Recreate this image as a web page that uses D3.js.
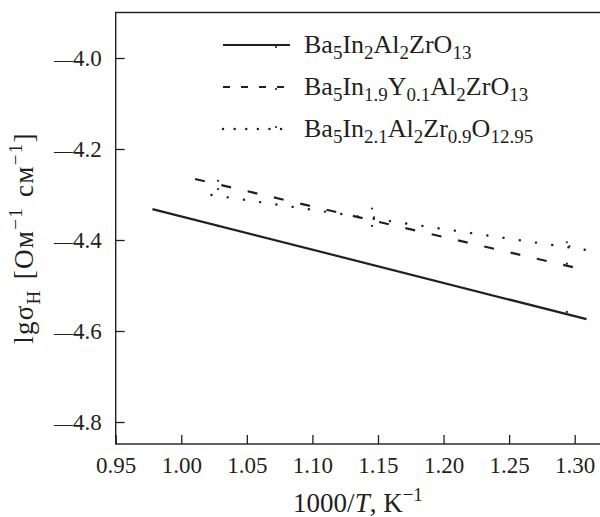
<!DOCTYPE html>
<html>
<head>
<meta charset="utf-8">
<script src="https://cdn.jsdelivr.net/npm/d3@7"></script>
<style>
  body { margin: 0; background: #fff; }
  svg text { font-family: "Liberation Serif", "Times New Roman", serif; fill: #231f20; }
</style>
</head>
<body>
<script>
// values
var xTicks = [0.95, 1.00, 1.05, 1.10, 1.15, 1.20, 1.25, 1.30];
var yTicks = [-4.0, -4.2, -4.4, -4.6, -4.8];

// each line is a straight Arrhenius fit: [1000/T, lg sigma]
var lineSolid  = [[0.978, -4.332], [1.309, -4.574]];
var lineDashed = [[1.0105, -4.266], [1.305, -4.464]];
var lineDotted = [[1.023, -4.301], [1.309, -4.422]];

// small point marks drawn along the lines
var ptsSolid  = [[1.028, -4.369], [1.294, -4.558]];
var ptsDashed = [[1.028, -4.270], [1.028, -4.288], [1.1455, -4.331], [1.147, -4.350], [1.1455, -4.369], [1.294, -4.452]];
var ptsDotted = [[1.294, -4.405], [1.296, -4.414]];

var legendNames = [
  [["Ba"], ["5", "sub"], ["In"], ["2", "sub"], ["Al"], ["2", "sub"], ["ZrO"], ["13", "sub"]],
  [["Ba"], ["5", "sub"], ["In"], ["1.9", "sub"], ["Y"], ["0.1", "sub"], ["Al"], ["2", "sub"], ["ZrO"], ["13", "sub"]],
  [["Ba"], ["5", "sub"], ["In"], ["2.1", "sub"], ["Al"], ["2", "sub"], ["Zr"], ["0.9", "sub"], ["O"], ["12.95", "sub"]]
];

var W = 600, H = 517;
var FONT = "Liberation Serif";
var INK = "#231f20";
var svg = d3.select("body").append("svg").attr("width", W).attr("height", H);

var x = d3.scaleLinear().domain([0.95, 1.30]).range([115.7, 574.7]);
var y = d3.scaleLinear().domain([-4.0, -4.8]).range([58, 422]);

var plotLeft = x(0.95), plotTop = 12.5, plotBottom = 444;

// frame (runs off the right edge like the scan)
svg.append("rect")
  .attr("x", plotLeft).attr("y", plotTop)
  .attr("width", W + 20 - plotLeft).attr("height", plotBottom - plotTop)
  .attr("fill", "none").attr("stroke", INK).attr("stroke-width", 1.4);

var gy = svg.append("g").attr("transform", "translate(" + plotLeft + ",0)")
  .call(d3.axisLeft(y).tickValues(yTicks).tickFormat(d3.format(".1f")).tickSizeInner(-9).tickSizeOuter(0).tickPadding(14));
var gx = svg.append("g").attr("transform", "translate(0," + plotBottom + ")")
  .call(d3.axisBottom(x).tickValues(xTicks).tickFormat(d3.format(".2f")).tickSizeInner(-9).tickSizeOuter(0).tickPadding(13));

[gx, gy].forEach(function(g) {
  g.attr("font-family", FONT).attr("font-size", 23);
  g.select(".domain").remove();
  g.selectAll("line").attr("stroke", INK).attr("stroke-width", 1.3);
  g.selectAll("text").attr("fill", INK);
});

// long dash for the minus sign, like the typeset figure
gy.selectAll("text").each(function(d) {
  var t = d3.select(this).text("");
  t.append("tspan").attr("font-size", 19).text("\u2014");
  t.append("tspan").text(d3.format(".1f")(Math.abs(d)));
});

var line = d3.line().x(d => x(d[0])).y(d => y(d[1]));

var styles = [
  { data: lineSolid, pts: ptsSolid, dash: null, cap: "butt", legDash: null },
  { data: lineDashed, pts: ptsDashed, dash: "10,17", cap: "butt", legDash: "7,11" },
  { data: lineDotted, pts: ptsDotted, dash: "0.1,16.3", cap: "round", legDash: "0.1,11.5" }
];

styles.forEach(function(s) {
  svg.append("path")
    .attr("d", line(s.data))
    .attr("fill", "none")
    .attr("stroke", INK)
    .attr("stroke-width", s.cap === "round" ? 2.4 : 2.2)
    .attr("stroke-linecap", s.cap)
    .attr("stroke-dasharray", s.dash);
  svg.selectAll(null).data(s.pts).enter().append("circle")
    .attr("cx", d => x(d[0])).attr("cy", d => y(d[1]))
    .attr("r", 1.1).attr("fill", INK);
});

// legend
var legY = [45, 87, 129];
var leg = svg.append("g").attr("font-family", FONT);
legendNames.forEach(function(parts, i) {
  var s = styles[i];
  var yy = legY[i];
  leg.append("line")
    .attr("x1", 223).attr("x2", 290).attr("y1", yy).attr("y2", yy)
    .attr("stroke", INK).attr("stroke-width", s.cap === "round" ? 2.4 : 2.2)
    .attr("stroke-linecap", s.cap)
    .attr("stroke-dasharray", s.legDash);
  leg.append("circle").attr("cx", 276).attr("cy", yy + (i === 2 ? -2 : 2)).attr("r", 1.1).attr("fill", INK);
  var t = leg.append("text").attr("x", 304).attr("y", yy + 8).attr("font-size", 26);
  parts.forEach(function(p, j) {
    if (p[1] === "sub") {
      t.append("tspan").attr("font-size", 19).attr("dy", 6).text(p[0]);
    } else {
      t.append("tspan").attr("dy", j ? -6 : 0).text(p[0]);
    }
  });
});

// axis titles
var xt = svg.append("text").attr("x", 358).attr("y", 512)
  .attr("text-anchor", "middle").attr("font-size", 27).attr("font-family", FONT);
xt.append("tspan").text("1000/");
xt.append("tspan").attr("font-style", "italic").text("T");
xt.append("tspan").text(", K");
xt.append("tspan").attr("font-size", 19).attr("dy", -11).text("\u22121");

var yt = svg.append("text")
  .attr("transform", "translate(33,238) rotate(-90)")
  .attr("text-anchor", "middle").attr("font-size", 27).attr("font-family", FONT)
  .attr("word-spacing", 2).attr("letter-spacing", 1.3);
yt.append("tspan").text("lg\u03c3");
yt.append("tspan").attr("font-size", 19).attr("dy", 7).text("H");
yt.append("tspan").attr("dy", -7).text(" [Ом");
yt.append("tspan").attr("font-size", 19).attr("dy", -11).text("\u22121");
yt.append("tspan").attr("dy", 11).text(" см");
yt.append("tspan").attr("font-size", 19).attr("dy", -11).text("\u22121");
yt.append("tspan").attr("dy", 11).text("]");
</script>
</body>
</html>
